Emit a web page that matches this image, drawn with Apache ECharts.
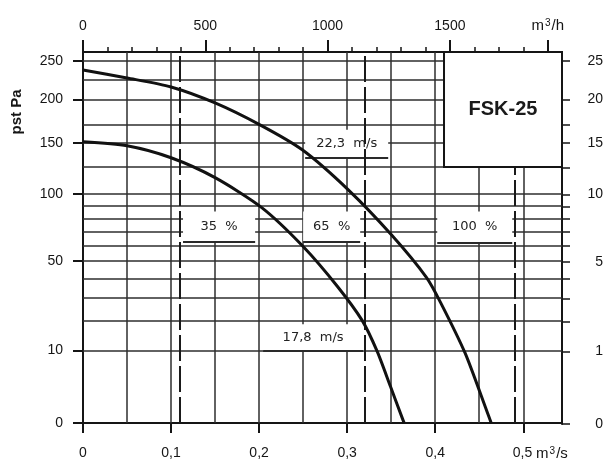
<!DOCTYPE html>
<html><head><meta charset="utf-8">
<script src="https://cdn.jsdelivr.net/npm/echarts@6/dist/echarts.min.js"></script>
<style>html,body{margin:0;padding:0;background:#fff}#c{width:605px;height:461px}</style>
</head><body><div id="c"></div>
<script>
// ---- data: flow q (m³/s), static pressure pst (Pa) ----
const upperQ = [0, 0.05, 0.10, 0.15, 0.201, 0.249, 0.301, 0.351, 0.390, 0.406, 0.434, 0.459, 0.4636];
const upperP = [238, 227.3, 215.6, 195.6, 169.7, 142.5, 104, 67.1, 40.5, 27.8, 9.3, 0.23, 0];
const lowerQ = [0, 0.05, 0.10, 0.15, 0.203, 0.25, 0.289, 0.317, 0.334, 0.349, 0.3625, 0.3648];
const lowerP = [151, 146.7, 134.3, 114.9, 88.6, 59.5, 35.6, 20.1, 9.84, 2.6, 0.05, 0];
const percentQ = [0.1125, 0.316, 0.486];           // dashed control lines
const pressureGrid = [10, 20, 30, 40, 50, 60, 70, 80, 90, 100, 125, 150, 170, 200, 225, 250];
const flowGrid = [0.05, 0.1, 0.15, 0.2, 0.25, 0.3, 0.35, 0.4, 0.45, 0.5];
const leftTicks = [0, 10, 50, 100, 150, 200, 250];
const leftLabels = ['0', '10', '50', '100', '150', '200', '250'];
const rightLabels = ['0', '1', '5', '10', '15', '20', '25'];
const rightTicks = [0, 10, 20, 30, 40, 50, 60, 70, 80, 90, 100, 125, 150, 170, 200, 250];
const bottomTicks = [0, 0.1, 0.2, 0.3, 0.4, 0.5];
const bottomLabels = ['0', '0,1', '0,2', '0,3', '0,4', '0,5'];
const topMajor = [0, 500, 1000, 1500, 1900];
const topLabels = ['0', '500', '1000', '1500', 'm3/h'];
const topMinor = [0, 100, 200, 300, 400, 500, 600, 700, 800, 900, 1000, 1100, 1200, 1300, 1400, 1500, 1600, 1700, 1800, 1900];
const noteTexts = ['35  %', '65  %', '100  %', '22,3  m/s', '17,8  m/s'];
const noteQ = [[0.1136, 0.1955], [0.25, 0.3148], [0.4023, 0.4875], [0.2523, 0.3466], [0.2045, 0.3182]];
const noteP = [[62.9, 85.3], [62.9, 85.3], [62.2, 85.3], [134.3, 164.1], [9.84, 18.6]];
const modelName = 'FSK-25';

// ---- layout ----
const QMAX = 0.544, SMAX = 16.21;
const sq = Math.sqrt;
const ink = '#151515';
const idx = (arr, v) => arr.findIndex(t => Math.abs(t - v) < 1e-6);
const rich = {
  u: { fontSize: 15, color: ink, fontFamily: 'Liberation Sans' },
  sup: { fontSize: 10, color: ink, verticalAlign: 'top', fontFamily: 'Liberation Sans', padding: [0, 1, 0, 1] },
  pad: { width: 34 }
};
const hidden = { show: false };
const chart = echarts.init(document.getElementById('c'), null, { renderer: 'canvas' });
const option = {
  backgroundColor: '#fff',
  animation: false,
  textStyle: { fontFamily: 'Liberation Sans' },
  grid: [
    { left: 83, right: 43, top: 52, bottom: 37 },   // main plot
    { left: 83, right: 43, top: 0, height: 52 },     // top m³/h scale (its bottom edge is the plot top)
    { left: 83, right: 43, top: 0, height: 52 },     // top scale, long ticks
    { left: 562, right: 0, top: 52, bottom: 37 }     // right scale (its left edge is the plot right)
  ],
  xAxis: [
    { gridIndex: 0, type: 'value', position: 'bottom', min: 0, max: QMAX,
      axisLine: { show: true, lineStyle: { color: ink, width: 2 } },
      axisTick: { show: true, customValues: bottomTicks, length: 10, lineStyle: { color: ink, width: 2 } },
      axisLabel: { customValues: bottomTicks, margin: 23, fontSize: 14, color: ink, rich,
        formatter: v => { const i = idx(bottomTicks, v); if (i < 0) return '';
          return i === bottomTicks.length - 1 ? '{pad|}' + bottomLabels[i] + ' {u|m}{sup|3}{u|/s}' : bottomLabels[i]; } },
      splitLine: hidden },
    { gridIndex: 1, type: 'value', position: 'bottom', min: 0, max: QMAX * 3600,
      axisLine: { show: true, lineStyle: { color: ink, width: 2 } },
      axisTick: { show: true, inside: true, customValues: topMinor, length: 5, lineStyle: { color: ink, width: 1.5 } },
      axisLabel: { inside: true, customValues: topMinor, margin: 19, fontSize: 14, color: ink, rich,
        formatter: v => { const i = idx(topMajor, v); if (i < 0) return '';
          return topLabels[i] === 'm3/h' ? '{u|m}{sup|3}{u|/h}' : topLabels[i]; } },
      splitLine: hidden },
    { gridIndex: 2, type: 'value', position: 'bottom', min: 0, max: QMAX * 3600,
      axisLine: hidden,
      axisTick: { show: true, inside: true, customValues: topMajor, length: 12, lineStyle: { color: ink, width: 2 } },
      axisLabel: { show: true, inside: true, customValues: topMajor, formatter: () => '' }, splitLine: hidden },
    { gridIndex: 3, type: 'value', min: 0, max: 1, show: false }
  ],
  yAxis: [
    { gridIndex: 0, type: 'value', position: 'left', min: 0, max: SMAX,
      axisLine: { show: true, lineStyle: { color: ink, width: 2 } },
      axisTick: { show: true, customValues: leftTicks.map(sq), length: 10, lineStyle: { color: ink, width: 2 } },
      axisLabel: { customValues: leftTicks.map(sq), margin: 20, fontSize: 14, color: ink,
        formatter: v => { const i = idx(leftTicks.map(sq), v); return i < 0 ? '' : leftLabels[i]; } },
      splitLine: hidden },
    { gridIndex: 1, type: 'value', min: 0, max: 1, show: false },
    { gridIndex: 2, type: 'value', min: 0, max: 1, show: false },
    { gridIndex: 3, type: 'value', position: 'left', min: 0, max: SMAX,
      axisLine: { show: true, lineStyle: { color: ink, width: 2 } },
      axisTick: { show: true, inside: true, customValues: rightTicks.map(sq), length: 8, lineStyle: { color: ink, width: 1.5 } },
      axisLabel: { inside: true, customValues: rightTicks.map(sq), margin: 41, align: 'right', fontSize: 14, color: ink,
        formatter: v => { const i = idx(leftTicks.map(sq), v); return i < 0 ? '' : rightLabels[i]; } },
      splitLine: hidden }
  ],
  graphic: [
    { type: 'text', x: 17, y: 112, rotation: Math.PI / 2,
      style: { text: 'pst Pa', fontSize: 15, fontWeight: 'bold', fill: ink, align: 'center', verticalAlign: 'middle', fontFamily: 'Liberation Sans' } }
  ],
  series: [
    { name: 'grid', type: 'line', data: [], silent: true,
      markLine: { silent: true, z: 1, symbol: 'none', animation: false, label: { show: false },
        lineStyle: { color: '#2e2e2e', width: 1.5, type: 'solid' },
        data: pressureGrid.map(p => ({ yAxis: sq(p) })).concat(flowGrid.map(q => ({ xAxis: q }))) } },
    { name: 'notes', type: 'line', data: [], silent: true,
      markArea: { silent: true, z: 2,
        itemStyle: { color: '#fff', borderWidth: 0 },
        label: { show: true, position: 'inside', fontSize: 13, color: '#222', fontFamily: 'DejaVu Sans' },
        data: noteTexts.map((t, i) => [{ name: t, xAxis: noteQ[i][0], yAxis: sq(noteP[i][0]) },
                                       { xAxis: noteQ[i][1], yAxis: sq(noteP[i][1]) }]) },
      markLine: { silent: true, z: 3, symbol: 'none', label: { show: false },
        lineStyle: { color: '#2a2a2a', width: 1.8, type: 'solid' },
        data: noteTexts.map((t, i) => [{ coord: [noteQ[i][0], sq(noteP[i][0])] }, { coord: [noteQ[i][1], sq(noteP[i][0])] }]) } },
    { name: 'control', type: 'line', data: [], silent: true,
      markLine: { silent: true, z: 3, symbol: 'none', label: { show: false },
        lineStyle: { color: '#1a1a1a', width: 2, type: [26, 5] },
        data: percentQ.map(q => ({ xAxis: q })) } },
    { name: '22,3 m/s', type: 'line', z: 4, showSymbol: false, smooth: 0.25,
      lineStyle: { color: '#111', width: 3 },
      data: upperQ.map((q, i) => [q, sq(upperP[i])]) },
    { name: '17,8 m/s', type: 'line', z: 4, showSymbol: false, smooth: 0.25,
      lineStyle: { color: '#111', width: 3 },
      data: lowerQ.map((q, i) => [q, sq(lowerP[i])]) },
    { name: 'model', type: 'line', data: [], silent: true,
      markArea: { silent: true, z: 6,
        itemStyle: { color: '#fff', borderColor: ink, borderWidth: 2 },
        label: { show: true, position: 'inside', fontSize: 20, fontWeight: 'bold', color: '#1a1a1a', fontFamily: 'Liberation Sans' },
        data: [[{ name: modelName, xAxis: 0.41, yAxis: sq(125) }, { xAxis: QMAX, yAxis: SMAX }]] } }
  ]
};
chart.setOption(option);
</script></body></html>
